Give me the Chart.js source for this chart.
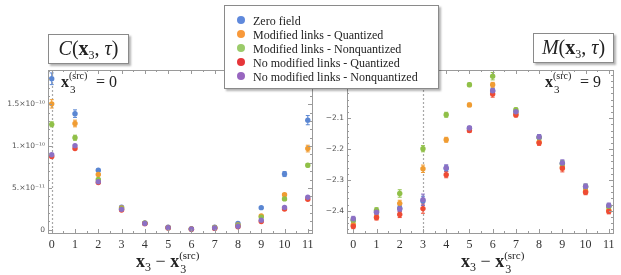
<!DOCTYPE html>
<html>
<head>
<meta charset="utf-8">
<script src="https://cdn.jsdelivr.net/npm/chart.js@4.4.0/dist/chart.umd.min.js"></script>
<style>
  body { margin:0; width:621px; height:275px; background:#fff; position:relative; overflow:hidden; font-family:"Liberation Serif", serif; color:#222; }
  canvas { position:absolute; top:0; }
  #cLeft { left:0; }
  #cRight { left:320px; }
  .box { position:absolute; background:#fff; border:1px solid #8a8a8a; box-shadow:2px 2px 2px rgba(0,0,0,.3); box-sizing:border-box; }
  .ttl { font-size:20px; text-align:center; line-height:27px; white-space:nowrap; }
  .ttl i { font-style:italic; }
  .sub { font-size:12px; vertical-align:-4px; }
  .lg { left:224px; top:5px; width:215px; height:84px; font-size:12px; }
  .lg div { position:absolute; left:28px; white-space:nowrap; line-height:14px; }
  .lg span { position:absolute; left:-16px; top:2px; width:8px; height:8px; border-radius:50%; }
  .ann { position:absolute; font-size:16px; line-height:18px; white-space:nowrap; }
  .ss { display:inline-block; position:relative; width:23px; height:0; vertical-align:baseline; }
  .ss .up { position:absolute; left:0; bottom:6px; font-size:10px; line-height:10px; }
  .ss .dn { position:absolute; left:1px; top:-3px; font-size:11px; line-height:11px; }
  .xt { position:absolute; font-size:18px; line-height:20px; white-space:nowrap; }
  .xt .sub { font-size:12px; vertical-align:-4px; }
  .xt .ss { width:24px; }
  .xt .ss .up { font-size:11px; bottom:7px; }
  .xt .ss .dn { font-size:12px; }
</style>
</head>
<body>
<canvas id="cLeft" width="320" height="275"></canvas>
<canvas id="cRight" width="301" height="275"></canvas>

<div class="box ttl" style="left:48px;top:34px;width:81px;height:30px;"><i>C</i>(<b>x</b><span class="sub">3</span>, <i>τ</i>)</div>
<div class="box ttl" style="left:533px;top:33px;width:81px;height:30px;"><i>M</i>(<b>x</b><span class="sub">3</span>, <i>τ</i>)</div>

<div class="box lg">
  <div style="top:8px"><span style="background:#5f89dc"></span>Zero field</div>
  <div style="top:22px"><span style="background:#f8993a"></span>Modified links - Quantized</div>
  <div style="top:36px"><span style="background:#9bcb6a"></span>Modified links - Nonquantized</div>
  <div style="top:50px"><span style="background:#e6363a"></span>No modified links - Quantized</div>
  <div style="top:64px"><span style="background:#9866c0"></span>No modified links - Nonquantized</div>
</div>

<div class="ann" style="left:61px;top:73px;"><b>x</b><span class="ss"><span class="up">(src)</span><span class="dn">3</span></span> = 0</div>
<div class="ann" style="left:545px;top:73px;"><b>x</b><span class="ss"><span class="up">(src)</span><span class="dn">3</span></span> = 9</div>

<div class="xt" style="left:136px;top:251px;"><b>x</b><span class="sub">3</span> − <b>x</b><span class="ss"><span class="up">(src)</span><span class="dn">3</span></span></div>
<div class="xt" style="left:461px;top:251px;"><b>x</b><span class="sub">3</span> − <b>x</b><span class="ss"><span class="up">(src)</span><span class="dn">3</span></span></div>

<script>
// separation from source, shared by both panels
const seps = [0, 1, 2, 3, 4, 5, 6, 7, 8, 9, 10, 11];
const seriesNames = ['Zero field', 'Modified links - Quantized', 'Modified links - Nonquantized', 'No modified links - Quantized', 'No modified links - Nonquantized'];
const seriesColors = ['#5a86d2', '#f09c32', '#90c048', '#ee4b34', '#8c70c4'];

// C(x3, tau), source at 0
const cZero   = [1.805e-10, 1.388e-10, 0.711e-10, 0.270e-10, 0.080e-10, 0.028e-10, 0.008e-10, 0.030e-10, 0.075e-10, 0.263e-10, 0.665e-10, 1.310e-10];
const cModQ   = [1.505e-10, 1.270e-10, 0.660e-10, 0.260e-10, 0.078e-10, 0.025e-10, 0.007e-10, 0.025e-10, 0.055e-10, 0.165e-10, 0.419e-10, 0.970e-10];
const cModNQ  = [1.260e-10, 1.100e-10, 0.600e-10, 0.250e-10, 0.076e-10, 0.024e-10, 0.007e-10, 0.022e-10, 0.050e-10, 0.150e-10, 0.368e-10, 0.770e-10];
const cNoQ    = [0.876e-10, 0.970e-10, 0.563e-10, 0.235e-10, 0.072e-10, 0.020e-10, 0.006e-10, 0.015e-10, 0.035e-10, 0.098e-10, 0.246e-10, 0.363e-10];
const cNoNQ   = [0.896e-10, 1.005e-10, 0.574e-10, 0.243e-10, 0.074e-10, 0.022e-10, 0.007e-10, 0.020e-10, 0.040e-10, 0.114e-10, 0.266e-10, 0.387e-10];
const cZeroErr  = [0.070e-10, 0.045e-10, 0.012e-10, 0.008e-10, 0.004e-10, 0.003e-10, 0.003e-10, 0.003e-10, 0.004e-10, 0.008e-10, 0.030e-10, 0.055e-10];
const cModQErr  = [0.050e-10, 0.040e-10, 0.012e-10, 0.008e-10, 0.004e-10, 0.003e-10, 0.003e-10, 0.003e-10, 0.004e-10, 0.008e-10, 0.015e-10, 0.040e-10];
const cModNQErr = [0.030e-10, 0.030e-10, 0.010e-10, 0.006e-10, 0.003e-10, 0.003e-10, 0.003e-10, 0.003e-10, 0.003e-10, 0.008e-10, 0.012e-10, 0.020e-10];
const cNoQErr   = [0.015e-10, 0.012e-10, 0.008e-10, 0.005e-10, 0.003e-10, 0.003e-10, 0.003e-10, 0.003e-10, 0.003e-10, 0.005e-10, 0.008e-10, 0.010e-10];
const cNoNQErr  = [0.015e-10, 0.012e-10, 0.008e-10, 0.005e-10, 0.003e-10, 0.003e-10, 0.003e-10, 0.003e-10, 0.003e-10, 0.005e-10, 0.008e-10, 0.010e-10];
const cTicks = [0, 0.5e-10, 1e-10, 1.5e-10];
const cTickLabels = ['0', '5.×10⁻¹¹', '1.×10⁻¹⁰', '1.5×10⁻¹⁰'];

// M(x3, tau), source at 9 (dashed line at separation 3)
const mZero   = [-2.431, -2.403, -2.392, -2.368, -2.263, -2.133, -2.012, -2.079, -2.162, -2.247, -2.322, -2.385];
const mModQ   = [-2.445, -2.420, -2.376, -2.264, -2.170, -2.057, -1.992, -2.087, -2.178, -2.258, -2.337, -2.398];
const mModNQ  = [-2.430, -2.398, -2.344, -2.199, -2.089, -1.992, -1.964, -2.073, -2.163, -2.248, -2.322, -2.386];
const mNoQ    = [-2.450, -2.422, -2.412, -2.393, -2.283, -2.140, -2.022, -2.090, -2.180, -2.262, -2.340, -2.402];
const mNoNQ   = [-2.426, -2.405, -2.394, -2.364, -2.261, -2.132, -2.011, -2.079, -2.161, -2.245, -2.321, -2.383];
const mZeroErr  = [0.008, 0.008, 0.010, 0.015, 0.010, 0.006, 0.008, 0.006, 0.008, 0.010, 0.008, 0.008];
const mModQErr  = [0.008, 0.008, 0.010, 0.012, 0.008, 0.006, 0.008, 0.006, 0.008, 0.010, 0.008, 0.008];
const mModNQErr = [0.008, 0.008, 0.012, 0.010, 0.008, 0.006, 0.012, 0.006, 0.008, 0.010, 0.008, 0.008];
const mNoQErr   = [0.008, 0.008, 0.010, 0.015, 0.010, 0.006, 0.010, 0.006, 0.008, 0.012, 0.008, 0.008];
const mNoNQErr  = [0.008, 0.008, 0.010, 0.018, 0.010, 0.006, 0.008, 0.006, 0.008, 0.010, 0.008, 0.008];
const mTicks = [-2.4, -2.3, -2.2, -2.1];
const mTickLabels = ['−2.4', '−2.3', '−2.2', '−2.1'];

function makeSets(vals, errs) {
  return vals.map((v, k) => ({
    label: seriesNames[k],
    data: seps.map((x, i) => ({ x: x, y: v[i] })),
    err: errs[k],
    backgroundColor: seriesColors[k],
    borderWidth: 0,
    pointRadius: 2.7,
    order: 4 - k
  }));
}

// frame with inward ticks on all sides, dotted source line, error bars
const framePlugin = {
  id: 'frame',
  beforeDatasetsDraw(chart, args, o) {
    const ctx = chart.ctx, a = chart.chartArea, xs = chart.scales.x, ys = chart.scales.y;
    ctx.save();
    ctx.strokeStyle = '#a8a8a8'; ctx.lineWidth = 1.2; ctx.setLineDash([2, 2]);
    const sx = Math.round(xs.getPixelForValue(o.srcLine)) + 0.5;
    ctx.beginPath(); ctx.moveTo(sx, a.top); ctx.lineTo(sx, a.bottom); ctx.stroke();
    ctx.setLineDash([]);
    ctx.lineWidth = 1;
    chart.data.datasets.forEach(ds => {
      ctx.strokeStyle = ds.backgroundColor;
      ds.data.forEach((p, i) => {
        const px = xs.getPixelForValue(p.x);
        const y1 = ys.getPixelForValue(p.y - ds.err[i]), y2 = ys.getPixelForValue(p.y + ds.err[i]);
        ctx.beginPath();
        ctx.moveTo(px, y1); ctx.lineTo(px, y2);
        ctx.moveTo(px - 2, y1); ctx.lineTo(px + 2, y1);
        ctx.moveTo(px - 2, y2); ctx.lineTo(px + 2, y2);
        ctx.stroke();
      });
    });
    ctx.restore();
  },
  afterDraw(chart, args, o) {
    const ctx = chart.ctx, a = chart.chartArea, xs = chart.scales.x, ys = chart.scales.y;
    ctx.save();
    ctx.strokeStyle = '#9a9a9a'; ctx.lineWidth = 1;
    ctx.strokeRect(Math.round(a.left) + 0.5, Math.round(a.top) + 0.5, Math.round(a.right - a.left), Math.round(a.bottom - a.top));
    ctx.beginPath();
    for (let v = 0; v <= 11.01; v += 0.5) {
      const px = Math.round(xs.getPixelForValue(v)) + 0.5;
      const len = Number.isInteger(v) ? 4 : 2;
      ctx.moveTo(px, a.bottom); ctx.lineTo(px, a.bottom - len);
      ctx.moveTo(px, a.top); ctx.lineTo(px, a.top + len);
    }
    for (let v = o.yFrom; v <= ys.max; v += o.yMinor) {
      if (v < ys.min) continue;
      const py = Math.round(ys.getPixelForValue(v)) + 0.5;
      const major = o.yMajor.some(t => Math.abs(t - v) < o.yMinor / 10);
      const len = major ? 4 : 2;
      ctx.moveTo(a.left, py); ctx.lineTo(a.left + len, py);
      ctx.moveTo(a.right, py); ctx.lineTo(a.right - len, py);
    }
    ctx.stroke();
    ctx.restore();
  }
};

function makeChart(id, sets, xMin, xMax, yMin, yMax, ticks, tickLabels, yWidth, tickFont, opts) {
  return new Chart(document.getElementById(id), {
    type: 'scatter',
    data: { datasets: sets },
    options: {
      responsive: false,
      animation: false,
      layout: { padding: { top: 70, right: 8, left: 0, bottom: 0 } },
      plugins: { legend: { display: false }, tooltip: { enabled: false }, frame: opts },
      scales: {
        x: {
          type: 'linear', min: xMin, max: xMax,
          grid: { display: false, drawTicks: false }, border: { display: false },
          afterBuildTicks: s => { s.ticks = seps.map(v => ({ value: v })); },
          afterFit: s => { s.height = 42; },
          ticks: { padding: 5, color: '#333', font: { family: 'Liberation Serif', size: 12 }, callback: v => String(v) }
        },
        y: {
          type: 'linear', min: yMin, max: yMax,
          grid: { display: false, drawTicks: false }, border: { display: false },
          afterBuildTicks: s => { s.ticks = ticks.map(v => ({ value: v })); },
          afterFit: s => { s.width = yWidth; },
          ticks: { padding: 3, color: '#555', font: { family: 'DejaVu Sans', size: tickFont },
                   callback: (v, i) => tickLabels[i] }
        }
      }
    },
    plugins: [framePlugin]
  });
}

makeChart('cLeft',
  makeSets([cZero, cModQ, cModNQ, cNoQ, cNoNQ], [cZeroErr, cModQErr, cModNQErr, cNoQErr, cNoNQErr]),
  -0.16, 11.18, -0.04e-10, 1.91e-10, cTicks, cTickLabels, 48, 7.5,
  { srcLine: 0, yFrom: 0, yMinor: 0.1e-10, yMajor: cTicks });

makeChart('cRight',
  makeSets([mZero, mModQ, mModNQ, mNoQ, mNoNQ], [mZeroErr, mModQErr, mModNQErr, mNoQErr, mNoNQErr]),
  -0.27, 11.18, -2.472, -1.944, mTicks, mTickLabels, 27, 7.5,
  { srcLine: 3, yFrom: -2.48, yMinor: 0.02, yMajor: mTicks });
</script>
</body>
</html>
